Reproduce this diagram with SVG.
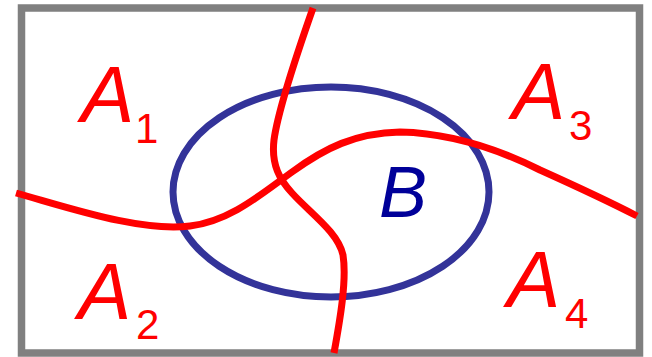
<svg xmlns="http://www.w3.org/2000/svg" width="652" height="357" viewBox="0 0 652 357">
<style>
.lbl{font-family:"Liberation Sans",Arial,sans-serif;fill:#ff0000}
.big{font-size:80px;font-style:italic}
.sub{font-size:42px}
.curve{fill:none;stroke:#ff0000;stroke-width:7;stroke-linecap:butt}
</style>
<rect id="frame" x="21.5" y="8" width="618" height="345" fill="#ffffff" stroke="#808080" stroke-width="7.5"/>
<g id="B">
<ellipse cx="331" cy="192" rx="158" ry="105" fill="none" stroke="#333399" stroke-width="7"/>
<text x="379" y="217" font-family="Liberation Sans,Arial,sans-serif" font-size="72" font-style="italic" fill="#000099">B</text>
</g>
<g id="connectors">
<path class="curve" d="M313,8 C300,45 278,110 274,140 C271,165 280,180 292,193 C310,213 338,232 343,255 C347,280 340,320 334,353"/>
<path class="curve" d="M16,193 C70,208 140,232 190,226 C230,221 260,195 292,172 C325,148 355,133 400,132 C450,133 500,150 540,170 C580,188 610,202 637,216"/>
</g>
<g id="A1"><text class="lbl big" x="81" y="122">A</text><text class="lbl sub" x="135" y="143">1</text></g>
<g id="A2"><text class="lbl big" x="78" y="319">A</text><text class="lbl sub" x="136" y="339">2</text></g>
<g id="A3"><text class="lbl big" x="512" y="119">A</text><text class="lbl sub" x="569" y="140">3</text></g>
<g id="A4"><text class="lbl big" x="507" y="307">A</text><text class="lbl sub" x="565" y="328">4</text></g>
</svg>
